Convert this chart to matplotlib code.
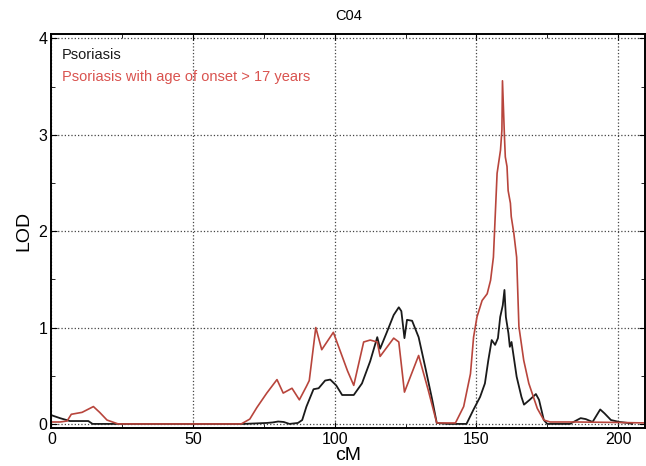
import matplotlib
matplotlib.use('Agg')
import matplotlib.pyplot as plt
from matplotlib.ticker import MultipleLocator

plt.rcParams['font.family'] = ['Liberation Sans', 'DejaVu Sans']

# Psoriasis (black)
pso_cm = [0, 3, 6.5, 10, 13, 14.5, 20, 40, 60, 67.7, 76, 78, 80, 82, 84, 87, 88.5,
          90, 92.5, 94.3, 96.6, 98.4, 100.5, 102.6, 106.7, 109.6, 112.5, 115, 116,
          118.5, 120.8, 122.6, 123.5, 124.6, 125.5, 127.3, 129.6, 132, 134.4, 136,
          140, 146.5, 149, 151.3, 153, 154.2, 155.4, 156.6, 157.6, 158.4, 159.3,
          159.9, 160.4, 161.3, 161.8, 162.4, 163, 164.2, 165.9, 166.8, 168.8, 171,
          172.1, 173.8, 175, 180, 183, 186.8, 188.6, 191, 193.7, 195.2, 197.5,
          200.5, 203.5, 205]
pso_lod = [0.09, 0.06, 0.03, 0.03, 0.03, 0.0, 0, 0, 0, 0, 0.01, 0.015, 0.025, 0.02,
           0, 0.01, 0.04, 0.18, 0.36, 0.37, 0.45, 0.46, 0.40, 0.30, 0.30, 0.42,
           0.65, 0.90, 0.78, 0.96, 1.13, 1.21, 1.17, 0.89, 1.08, 1.07, 0.90, 0.58,
           0.25, 0.01, 0, 0, 0.15, 0.28, 0.42, 0.66, 0.87, 0.82, 0.89, 1.11, 1.23,
           1.39, 1.11, 0.94, 0.80, 0.85, 0.73, 0.49, 0.28, 0.20, 0.25, 0.31, 0.25,
           0.04, 0, 0, 0, 0.06, 0.05, 0.02, 0.15, 0.11, 0.04, 0.02, 0.01, 0.0]

# Psoriasis with age of onset > 17 years (red)
late_cm = [0, 3, 5.5, 7, 10.8, 14.8, 17, 19.6, 23.5, 40, 67, 70, 72.5, 76, 79.6,
           81.8, 84.9, 87.5, 90, 91, 93.3, 95.4, 99.5, 102, 104.5, 106.7, 110.2,
           112.5, 115, 116, 120.8, 122.6, 124.6, 129.6, 133, 136, 142.6, 145.5,
           147.9, 149, 150.2, 152, 153.8, 155, 156, 157.3, 158.5, 159, 159.2,
           159.9, 160.2, 160.8, 161.2, 162, 162.3, 163.2, 164.2, 165, 166.7,
           168.5, 171.5, 173.8, 176, 185, 200, 210]
late_lod = [0.02, 0.02, 0.03, 0.10, 0.12, 0.18, 0.12, 0.04, 0, 0, 0, 0.05, 0.17,
            0.32, 0.46, 0.32, 0.37, 0.25, 0.39, 0.45, 1.00, 0.77, 0.95, 0.75, 0.55,
            0.40, 0.85, 0.87, 0.85, 0.70, 0.89, 0.85, 0.33, 0.71, 0.35, 0.01, 0.01,
            0.18, 0.52, 0.90, 1.11, 1.28, 1.35, 1.49, 1.73, 2.6, 2.84, 3.05, 3.56,
            2.98, 2.77, 2.67, 2.42, 2.29, 2.15, 1.98, 1.73, 1.01, 0.66, 0.42, 0.16,
            0.04, 0.02, 0.02, 0.015, 0.01]

x_ticks = [0, 50, 100, 150, 200]
y_ticks = [0, 1, 2, 3, 4]

fig = plt.figure(figsize=(6.46, 4.66), dpi=100)
ax = fig.add_axes([0.0797, 0.081, 0.9187, 0.847])

ax.plot(pso_cm, pso_lod, color='#1a1a1a', linewidth=1.3)
ax.plot(late_cm, late_lod, color='#b8453c', linewidth=1.2)

ax.set_xlim(0, 209.5)
ax.set_ylim(-0.045, 4.05)
ax.set_xticks(x_ticks)
ax.set_yticks(y_ticks)
ax.xaxis.set_minor_locator(MultipleLocator(25))
ax.yaxis.set_minor_locator(MultipleLocator(0.5))
ax.tick_params(which='both', direction='in', top=True, right=True, labelsize=11.5)
ax.tick_params(which='major', length=4, pad=3)
ax.tick_params(which='minor', length=3)
ax.grid(True, which='major', linestyle=':', color='#444444', linewidth=0.9)
for s in ax.spines.values():
    s.set_linewidth(1.4)

ax.set_title('C04', fontsize=10.5, pad=10)
ax.set_xlabel('cM', fontsize=14, labelpad=0)
ax.set_ylabel('LOD', fontsize=14, labelpad=4)

ax.text(0.018, 0.945, 'Psoriasis', transform=ax.transAxes, fontsize=10.5,
        color='#1a1a1a', va='center', ha='left')
ax.text(0.018, 0.89, 'Psoriasis with age of onset > 17 years', transform=ax.transAxes,
        fontsize=10.5, color='#d9534f', va='center', ha='left')

fig.savefig('out.png', dpi=100)
